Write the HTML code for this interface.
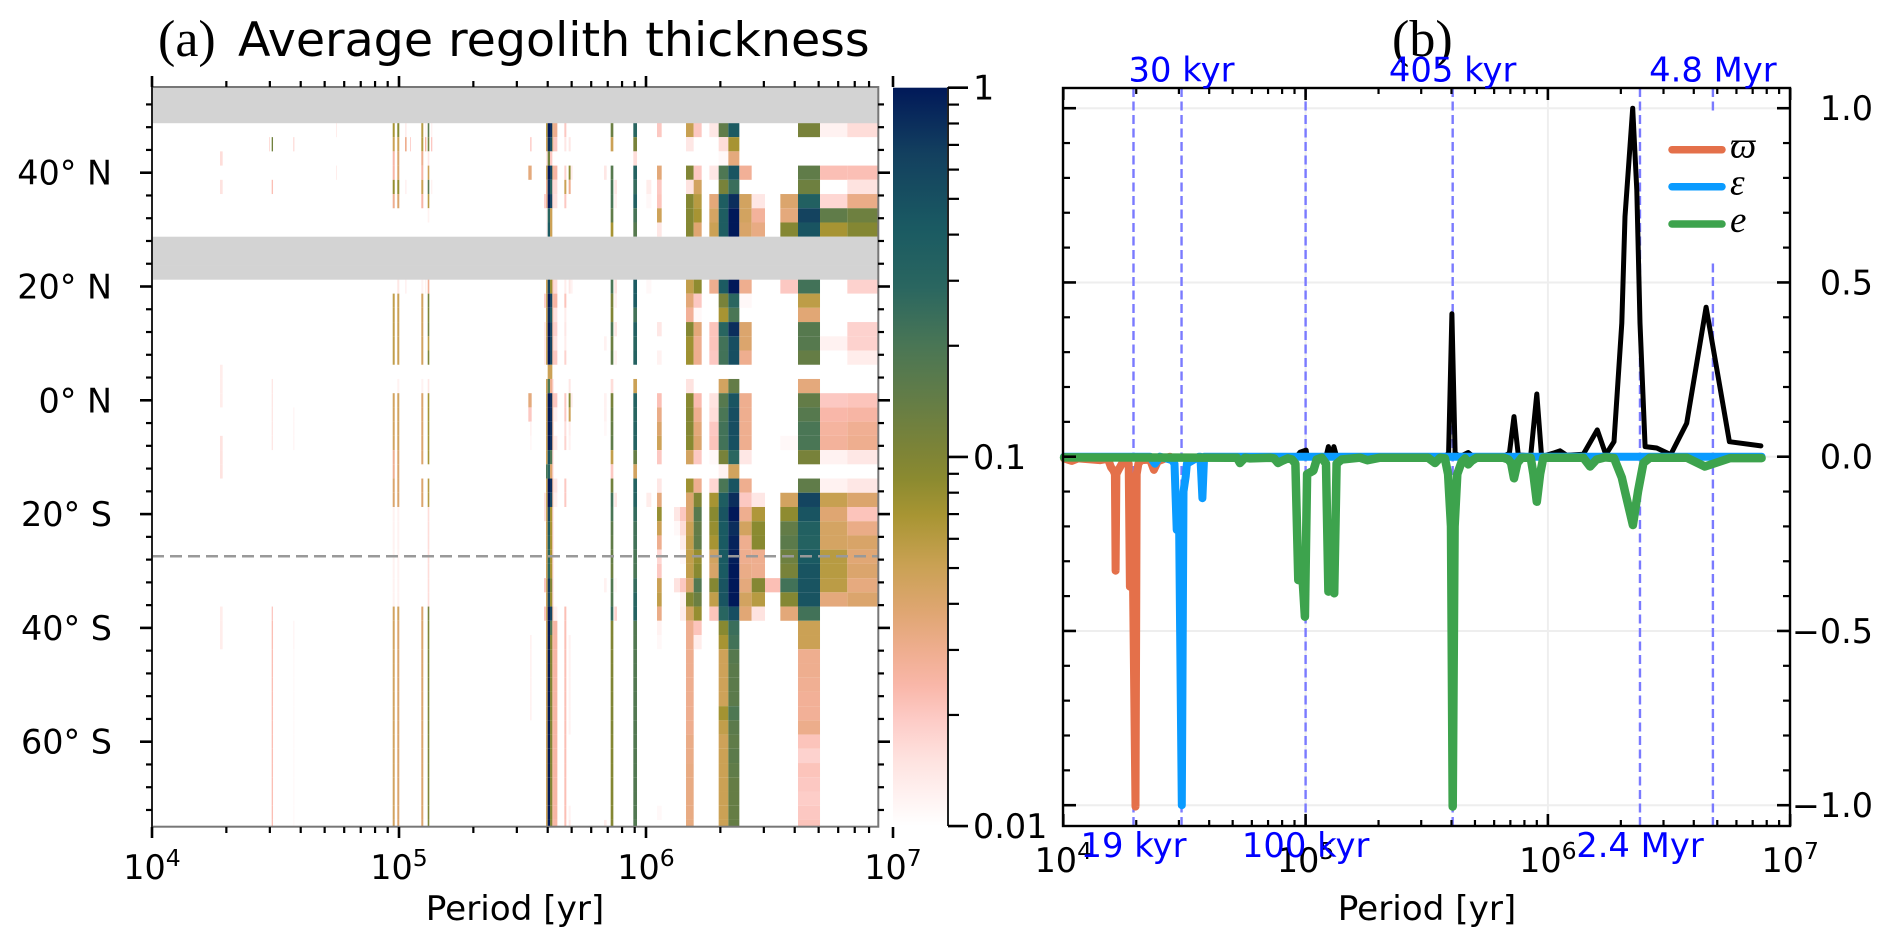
<!DOCTYPE html>
<html lang="en">
<head>
<meta charset="utf-8">
<title>Average regolith thickness and orbital periods</title>
<style>
html,body{margin:0;padding:0;background:#fff;}
svg{display:block;}
text{font-family:"DejaVu Sans","Liberation Sans",sans-serif;fill:#000;}
.serif{font-family:"Liberation Serif","DejaVu Serif",serif;}
.mi{font-family:"Liberation Serif","DejaVu Serif",serif;font-style:italic;}
</style>
</head>
<body>
<svg id="fig" xmlns="http://www.w3.org/2000/svg" width="1892" height="947" viewBox="0 0 1892 947">
<defs>
<clipPath id="clip-a"><rect x="152" y="87" width="726.3" height="740"/></clipPath>
<linearGradient id="cbar-grad" x1="0" y1="1" x2="0" y2="0"></linearGradient>
</defs>
<rect width="1892" height="947" fill="#fff"/>
<g id="panel-a">
<text class="serif" x="158" y="56" font-size="52">(a)</text>
<text x="238" y="56" font-size="47.5">Average regolith thickness</text>
<g id="cells" clip-path="url(#clip-a)"></g>
<g id="axes-a"></g>
<text x="515" y="920" font-size="34.2" text-anchor="middle">Period [yr]</text>
</g>
<g id="cbar">
<rect x="893" y="87.7" width="55" height="738.3" fill="url(#cbar-grad)"/>
<line x1="948" y1="87" x2="948" y2="826" stroke="#222" stroke-width="2"/>
</g>
<g id="panel-b">
<text class="serif" x="1392" y="56" font-size="52">(b)</text>
<g id="axes-b"></g>
<text x="1427" y="920" font-size="34.2" text-anchor="middle">Period [yr]</text>
</g>
</svg>
<script>
// ---------- Panel (a) data: log10(period) bin edges ----------
const binStart=[4.2753,4.4737,4.4845,4.5722,4.7449,4.9745,4.9931,5.0243,5.0445,5.0903,5.1053,5.1162,5.1295,5.5236,5.5304,5.5871,5.5952,5.6019,5.6114,5.6208,5.6249,5.6694,5.6869,5.6950,5.8300,5.8570,5.8718,5.9487,6.0014,6.0446,6.1134,6.1377,6.1620,6.1930,6.2564,6.2942,6.3334,6.3779,6.4278,6.4818,6.5439,6.6154,6.7045,6.8151];
const binEnd=[4.2861,4.4777,4.4899,4.5762,4.7490,4.9826,5.0012,5.0310,5.0485,5.0984,5.1106,5.1227,5.1349,5.5304,5.5371,5.5952,5.6019,5.6114,5.6208,5.6249,5.6411,5.6775,5.6950,5.7031,5.8408,5.8678,5.8826,5.9636,6.0216,6.0635,6.1377,6.1620,6.1930,6.2254,6.2942,6.3334,6.3779,6.4278,6.4818,6.5439,6.6154,6.7045,6.8151,6.9406];
// latitude of each row
const rowLats=[47.5,45,42.5,40,37.5,35,32.5,30,27.5,25,22.5,20,17.5,15,12.5,10,7.5,5,2.5,0,-2.5,-5,-7.5,-10,-12.5,-15,-17.5,-20,-22.5,-25,-27.5,-30,-32.5,-35,-37.5,-40,-42.5,-45,-47.5,-50,-52.5,-55,-57.5,-60,-62.5,-65,-67.5,-70,-72.5,-75];
const noDataLats=[55,52.5,50,27.5,25,22.5];
// thickness per column, one value per row (0 = none, trailing zeros omitted)
const colD1=[0,0,.016,0,.015,0,0,0,0,0, 0,0,0,0,0,0,0,.013,.013,.013, 0,0,.015,.015,.015,0,0,0,0,0, 0,0,0,0,.013,.013,.013];
const colD2=[0,.016];
const colD3=[0,.12,0,0,.022,0,0,0,0,0, 0,0,0,0,0,0,0,0,.014,.014, .014,.014,.014,0,0,0,0,0,0,0, 0,0,0,0,.02,.022,.022,.022,.022,.022, .022,.022,.022,.022,.022,.022,.022,.022,.022,.022];
const colD4=[0,.018,0,0,0,0,0,0,0,0, 0,0,0,0,0,0,0,0,0,0, .012,.012,.012,0,0,0,0,0,0,0, 0,0,0,0,0,.012,.012,.011,.011,.011, .011,.011,.011,.011,.011,.011,.011,.011,.011,.011];
const colD5=[.013,0,0,.013];
const colD6=[.07,.05,.025,.025,.08,.03,0,0,0,0, 0,0,.055,.055,.055,.055,.055,0,0,.045, .045,.045,.045,.03,.03,.04,.04,.012,.012,.012, .012,.012,.012,.012,.045,.045,.045,.045,.045,.045, .045,.045,.045,.045,.045,.045,.045,.045,.045,.045];
const colD7=[.09,.05,.04,.04,.08,.04,0,0,0,0, 0,.014,.05,.05,.05,.05,.05,0,.012,.045, .045,.045,.045,.04,.04,.04,.04,.012,.012,.012, .012,.012,.012,.012,.045,.04,.04,.04,.04,.04, .04,.04,.04,.04,.04,.04,.04,.04,.04,.04];
const colD8=[.013,.03,0,0,.012,0,0,0,0,0, 0,.012];
const colD9=[0,.018];
const colD10=[.06,.06,.03,.025,.05,.025,0,0,0,0, 0,.012,.045,.045,.045,.045,.045,0,.012,.04, .04,.04,.04,.04,0,.04,.04,0,0,0, 0,0,0,0,.04,.04,.04,.04,.04,.04, .04,.04,.04,.04,.04,.04,.04,.04,.04,.04];
const colD10b=[.012,.025,0,0,0,0,0,0,0,0, 0,.012];
const colD11=[.16,.12,.014,.05,.16,.06,.012,0,0,0, 0,.028,.11,.1,.11,.06,.1,0,.014,.07, .07,.07,.07,.07,0,.06,.06,.016,.016,.016, .016,.016,.016,.016,.11,.1,.1,.1,.1,.1, .1,.1,.1,.1,.1,.1,.1,.1,.1,.1];
const colD12=[.012,.02,0,0,.012];
const colC1a=[0,0,0,.035,0,0,0,0,0,0, 0,0,0,0,0,0,0,0,0,.035, .02];
const colC1b=[0,.018,0,.035,0,0,0,0,0,0, 0,0,0,0,0,0,0,0,0,.035, .02,.012,.011,0,0,0,0,0,0,0, 0,0,0,0,0,0,.012,.012,.012,.012, .012,.012];
const colC2=[0,0,0,0,0,.018,0,0,0,0, 0,0,.018,0,.013,.013,.013,0,0,0, 0,0,0,0,0,0,.015,.015,0,0, 0,0,.02,0,.02];
const colC3=[.06,.05,.015,.05,.03,.03,.012,.012,0,0, 0,.05,.05,.05,.05,.05,.05,0,.05,.05, .05,.05,.05,.05,.2,.05,.05,.05,.05,.05, .05,.05,.05,.05,.05,.05,.05,.05,.05,.05, .05,.05,.05,.05,.05,.05,.05,.05,.05,.05];
const colC4=[1,.8,.12,1,.8,1,.3,.4,0,0, 0,.6,1,.8,1,1,1,.05,.2,1, 1,1,1,.5,.3,1,1,.6,.4,.35, .3,.3,.7,.6,1,1,1,1,1,1, 1,1,1,1,1,1,1,1,1,1];
const colC5=[.8,.5,.02,.6,.3,.6,.05,.05,0,0, 0,.08,.6,.4,.6,.6,.6,.05,.03,.8, .8,.8,.8,.2,.04,.8,.6,.07,.07,.07, .07,.07,.1,.08,.6,.2,.1,.1,.1,.1, .1,.1,.1,.1,.1,.1,.1,.1,.1,.1];
const colC6=[.04,.04,0,.04,.02,.02,0,0,0,0, 0,.03,.03,.03,.03,.03,.03,0,.02,.03, .03,.03,.03,.02,.02,.03,.03,.02,.02,.02, .02,.02,.02,.02,.03,.03,.03,.03,.03,.03, .03,.03,.03,.03,.03,.03,.03,.03,.03,.03];
const colC7=[.03,.02,0,.025,.016,.015,0,0,0,0, 0,.016,.025,.015,.018,.015,.02,0,0,.02, .012,0,.013,0,0,.014,.012,0,0,0, 0,0,0,0,.012,.025,.025,.025,.025,.025, .025,.025,.025,.025,.025,.025,.025,.025,.025,.025];
const colC8=[.02,.014,0,.018,.05,.02,0,0,0,0, 0,.013,.021,.013,.014,.013,.018,0,0,.02, .02,.016,.018,0,0,.02,.02,0,0,0, 0,0,0,0,.022,.022,.022,.022,.022,.022, .022,.022,.022,.022,.022,.022,.022,.022,.022,.022];
const colC9=[0,.014,0,.085,.03,0,0,0,0,0, 0,.014,0,0,0,0,0,0,.014,.09, .05,.013,.012,0,0,0,0,0,0,0, 0,0,0,0,0,0,.012,.012,.012,.012, .012,.012,.012,0,0,0,0,0,.012,.014];
const colC10=[0,0,0,.013,0,0,0,0,0,0, 0,.012,0,0,0,0,0,0,0,.013];
const colC11=[0,0,0,.014,0,0,0,0,0,0, 0,0,0,0,0,.012,0,0,0,.012, .012,.011,0,0,0,0,0,0,0,0, 0,0,.012,0,0,0,0,0,0,0, 0,0,0,0,0,0,0,0,0,.013];
const colC12=[.13,.05,0,.17,.2,.2,.15,.07,0,0, 0,.2,.11,.1,.19,.13,.15,0,.016,.11, .13,.14,.15,.055,.02,.12,.22,.2,.16,.15, .14,.13,.18,.18,.25,.1,.1,.1,.1,.1, .1,.1,.1,.095,.095,.095,.095,.095,.095,.095];
const colC13=[0,0,0,0,.014,.012,0,0,0,0, 0,.015,.012,0,.014,0,.012,0,0,0, 0,0,0,0,0,0,.014,0,0,0, 0,0,.011,0,.018];
const colC14=[.3,.11,.016,.33,.25,.35,.21,.17,0,0, 0,.4,.4,.22,.35,.3,.33,0,.05,.33, .3,.33,.33,.14,.045,.33,.33,.26,.22,.22, .2,.2,.25,.3,.33,.18,.18,.18,.18,.18, .18,.18,.18,.18,.18,.18,.18,.18,.18,.18];
const colC15=[0,0,0,0,.013,.011,0,0,0,0, 0,.011,0,0,0,0,0,0,0,0, 0,0,0,0,0,0,.013];
const colC16=[.02,0,0,.036,.02,.021,.048,.014,0,0, 0,0,0,0,.014,0,.012,0,0,.022, .032,.04,.048,.02,0,.014,.035,.08,.05,.03, .017,.02,.05,.055,.032,.012,.011,0,0,0, 0,0,0,0,0,0,0,0,.011];
const colC17=[0,0,0,0,0,0,0,0,0,0, 0,0,0,0,0,0,0,0,0,0, 0,0,0,0,0,0,0,.014,.011,0, 0,0,.015];
const colC18=[0,0,0,0,0,0,0,0,0,0, 0,0,0,0,0,0,0,0,0,0, 0,0,0,0,0,0,0,.02,.016,.013, .011,0,.02,.012,.013];
const colC19=[.052,.014,0,.1,.015,.095,.095,.095,0,0, 0,.055,.036,.028,.095,.075,.075,0,.015,.09, .095,.095,.09,.045,0,.075,.04,.04,.05,.055, .055,.055,.04,.095,.045,.03,.03,.03,.03,.03, .03,.03,.03,.032,.032,.033,.033,.033,.033,.034];
const colC20=[.02,0,0,.02,.045,.06,.07,.038,0,0, 0,.085,.02,.011,.036,.03,.03,0,0,.023, .03,.036,.04,.02,0,.03,.1,.17,.145,.15, .08,.09,.18,.13,.08,.021,.013];
const colC21=[.014,0,0,.014,0,.036,.044,.05,0,0, 0,.03,0,0,.021,.021,.02,0,0,.015, .016,.02,.021,.011,0,.017,.07,.09,.08,.07, .045,.042,.095,.055,.021];
const colC22=[.15,.016,.011,.19,.11,.38,.38,.38,0,0, 0,.4,.11,.07,.3,.22,.22,0,.045,.17, .2,.22,.22,.11,.012,.2,.38,.46,.42,.42, .42,.42,.46,.46,.3,.09,.07,.048,.048,.048, .048,.072,.055,.048,.05,.05,.05,.05,.05,.05];
const colC23=[.4,.07,.035,.46,.24,.8,1,1,0,0, 0,1,.29,.2,.8,.52,.52,0,.145,.46, .52,.52,.5,.29,.046,.46,.8,1,.8,.9, .95,1,1,1,.52,.24,.22,.17,.16,.16, .16,.19,.16,.15,.16,.15,.14,.14,.14,.14];
const colC24=[0,0,0,.028,0,.045,.045,.042,0,0, 0,.03,.011,0,.04,.04,.03,0,0,.03, .03,.03,.03,.014,0,.03,.02,.03,.045,.03, .03,.032,.035,.045,.037];
const colC25=[0,0,0,0,0,.014,.027,.033,0,0, 0,0,0,0,0,0,0,0,0,0, 0,0,0,0,0,0,.014,.065,.088,.09, .03,.03,.095,.06,.015];
const colC25b=[0,0,0,0,0,0,0,0,0,0, 0,0,0,0,0,0,0,0,0,0, 0,0,0,0,0,0,0,0,0,0, 0,0,.022];
const colC26=[0,0,0,0,0,.04,.035,.095,0,0, 0,.02,0,0,0,0,0,0,0,0, 0,0,.011,0,0,0,.045,.085,.145,.16, .125,.11,.22,.095,.036];
const colC27=[.11,0,0,.15,.125,.35,.63,.46,0,0, 0,.22,.057,.037,.17,.17,.14,0,.035,.145, .17,.2,.2,.11,0,.15,.6,.46,.35,.33, .42,.46,.46,.46,.22,.05,.05,.03,.03,.029, .028,.028,.031,.021,.018,.021,.02,.019,.02,.021];
const colC28=[.012,0,0,.022,0,.017,.15,.07,0,0, 0,0,0,0,0,.012,0,0,0,.02, .024,.026,.027,.012,0,.012,.052,.038,.044,.044, .06,.06,.058,.035];
const colC29=[.016,0,0,.022,.015,.032,.125,.095,0,0, 0,.018,0,0,.018,.018,.013,0,0,.021, .025,.029,.03,.014,0,.014,.04,.021,.032,.042, .037,.04,.034,.04];
const columnValues=[colD1,colD2,colD3,colD4,colD5,colD6,colD7,colD8,colD9,colD10,colD10b,colD11,colD12,colC1a,colC1b,colC2,colC3,colC4,colC5,colC6,colC7,colC8,colC9,colC10,colC11,colC12,colC13,colC14,colC15,colC16,colC17,colC18,colC19,colC20,colC21,colC22,colC23,colC24,colC25,colC25b,colC26,colC27,colC28,colC29];
const referenceLat=[-27.4];
const latMajorTicks=[40,20,0,-20,-40,-60];
const latMajorLabels=["40° N","20° N","0° N","20° S","40° S","60° S"];
const latMinorTicks=[52,48,44,36,32,28,24,16,12,8,4,-4,-8,-12,-16,-24,-28,-32,-36,-44,-48,-52,-56,-64,-68,-72];
const decadeTicks=[4,5,6,7];
const minorMantissas=[2,3,4,5,6,7,8,9];
const cbarMajor=[1,0.1,0.01];
const cbarMajorLabels=["1","0.1","0.01"];
const cbarMinor=[.9,.8,.7,.6,.5,.4,.3,.2,.09,.08,.07,.06,.05,.04,.03,.02];
// colour map: fraction of log range -> colour
const cmapFrac=[0,.04,.09,.144,.19,.236,.29,.354,.42,.47,.505,.585,.65,.73,.81,.91,1];
const cmapHex=["#ffffff","#fff2f1","#fee2df","#fdcbc6","#f9b7a9","#efae90","#dfa672","#c9a153","#a89533","#8b8a30","#7e8436","#617c48","#4a7655","#2a6660","#1a5a62","#13405f","#011959"];

// ---------- Panel (b) data ----------
const blackLogP=[4.003,4.963,4.977,5.002,5.007,5.084,5.094,5.105,5.117,5.128,5.575,5.59,5.604,5.617,5.637,5.671,5.692,5.816,5.841,5.86,5.878,5.929,5.954,5.974,6.022,6.05,6.078,6.146,6.204,6.239,6.273,6.305,6.318,6.35,6.367,6.38,6.401,6.449,6.507,6.573,6.653,6.749,6.879];
const blackVal=[0,0,.013,.019,0,0,.029,0,.029,0,0,.01,.41,.01,0,.012,0,0,.01,.115,.005,.003,.18,0,.01,.017,.004,.007,.077,.006,.043,.383,.689,1,.765,.383,.029,.025,.006,.096,.429,.043,.031];
const orangeLogP=[4.003,4.035,4.061,4.151,4.184,4.197,4.207,4.213,4.216,4.219,4.226,4.242,4.259,4.27,4.275,4.287,4.298,4.303,4.31,4.321,4.358,4.374,4.391,4.403,4.44];
const orangeVal=[-.005,-.012,-.005,-.01,-.006,-.03,-.04,-.05,-.327,-.05,-.04,-.02,-.01,-.02,-.373,-.3,-1.004,-.05,-.02,-.01,-.008,-.038,-.012,-.01,0];
const blueLogP=[4.003,4.358,4.378,4.399,4.449,4.459,4.468,4.477,4.489,4.496,4.505,4.51,4.56,4.566,4.574,4.581,6.882];
const blueVal=[0,0,-.02,0,-.01,-.02,-.21,-.13,-1.0,-.1,-.057,-.02,0,0,-.119,0,0];
const greenLogP=[4.003,4.688,4.717,4.729,4.75,4.771,4.853,4.87,4.886,4.903,4.927,4.944,4.958,4.97,4.983,4.997,5.006,5.032,5.046,5.066,5.084,5.094,5.108,5.118,5.128,5.149,5.224,5.255,5.307,5.505,5.534,5.555,5.575,5.588,5.6,5.607,5.615,5.626,5.644,5.658,5.671,5.685,5.706,5.816,5.837,5.848,5.86,5.874,5.892,5.929,5.94,5.954,5.968,5.981,6.146,6.174,6.201,6.236,6.273,6.305,6.318,6.351,6.372,6.394,6.421,6.573,6.648,6.752,6.882];
const greenVal=[-.002,-.003,-.003,-.018,-.003,-.005,-.003,-.005,-.018,-.012,-.005,-.008,-.02,-.354,-.3,-.459,-.05,-.04,-.008,-.003,-.02,-.387,-.38,-.392,-.02,-.008,-.003,-.01,-.003,-.003,-.018,-.003,-.005,-.05,-.2,-1.004,-.2,-.05,-.015,-.005,-.022,-.012,-.003,-.003,-.008,-.018,-.062,-.018,-.003,-.003,-.05,-.129,-.05,-.003,-.003,-.028,-.008,-.002,-.004,-.06,-.1,-.196,-.1,-.018,-.003,-.003,-.028,-.004,-.004];
const upperMarks=[4.488,5.607,6.681];
const upperLabels=["30 kyr","405 kyr","4.8 Myr"];
const lowerMarks=[4.2897,5.0,6.38];
const lowerLabels=["19 kyr","100 kyr","2.4 Myr"];
const rightMajor=[1,.5,0,-.5,-1];
const rightMajorLabels=["1.0","0.5","0.0","−0.5","−1.0"];
const rightMinor=[.9,.8,.7,.6,.4,.3,.2,.1,-.1,-.2,-.3,-.4,-.6,-.7,-.8,-.9];
const legendLabels=["ϖ","ε","e"];

// ---------- helpers ----------
const NS='http://www.w3.org/2000/svg';
function make(tag,parent,attrs,txt){
  const el=document.createElementNS(NS,tag);
  for(const k in attrs)el.setAttribute(k,attrs[k]);
  if(txt!==undefined)el.textContent=txt;
  parent.appendChild(el);
  return el;
}
function hexRgb(h){return [parseInt(h.slice(1,3),16),parseInt(h.slice(3,5),16),parseInt(h.slice(5,7),16)];}
function cmap(v){
  const f=Math.max(0,Math.min(1,(Math.log10(v)+2)/2));
  let i=0;
  while(i<cmapFrac.length-2&&f>cmapFrac[i+1])i++;
  const t=(f-cmapFrac[i])/(cmapFrac[i+1]-cmapFrac[i]);
  const a=hexRgb(cmapHex[i]),b=hexRgb(cmapHex[i+1]);
  return 'rgb('+a.map((c,j)=>Math.round(c+(b[j]-c)*t)).join(',')+')';
}
// axis functions
const xA=lp=>152+247*(lp-4);
const yA=lat=>400.3-5.69*lat;
const xB=lp=>1063.3+242.3*(lp-4);
const yB=v=>456.7-348.5*v;
const yC=v=>87.7-369.2*Math.log10(v);
const TICK_FONT=33.4;

// ---------- Panel (a) heatmap ----------
const cellsG=document.getElementById('cells');
columnValues.forEach((col,c)=>{
  col.forEach((v,r)=>{
    if(!v)return;
    const y0=yA(rowLats[r]+1.25),y1=yA(rowLats[r]-1.25);
    const x0=xA(binStart[c]),x1=xA(binEnd[c]);
    const cell=make('rect',cellsG,{x:x0,y:y0,width:x1-x0,height:y1-y0,fill:cmap(v)});
    
    
  });
});
noDataLats.forEach(lat=>{
  const band=make('rect',cellsG,{x:152,y:yA(lat+1.25),width:726.3,height:yA(lat-1.25)-yA(lat+1.25)+.3,fill:'#d3d3d3'});
  
  
});
const axA=document.getElementById('axes-a');
referenceLat.forEach(lat=>{
  const l=make('line',axA,{x1:152,x2:878,y1:yA(lat),y2:yA(lat),stroke:'#999','stroke-width':2.5,'stroke-dasharray':'12 6'});
  
  
});
// spines
const frameA=make('rect',axA,{x:152,y:87,width:726.3,height:739.7,fill:'none',stroke:'#777','stroke-width':2});


const leftSpine=make('line',axA,{x1:152,y1:87,x2:152,y2:827,stroke:'#222','stroke-width':2});


function tick(parent,x1,y1,x2,y2,w,name){
  const t=make('line',parent,{x1,y1,x2,y2,stroke:'#000','stroke-width':w});
  
  
}
latMajorTicks.forEach((lat,i)=>{
  const y=yA(lat);
  tick(axA,140,y,152,y,2.6,'y-tick-major');
  tick(axA,878,y,890,y,2.6,'y-tick-major-right');
  const t=make('text',axA,{x:112,y:y+12,'font-size':TICK_FONT,'text-anchor':'end'},latMajorLabels[i]);
  
  
});
latMinorTicks.forEach(lat=>{
  const y=yA(lat);
  tick(axA,146,y,152,y,2.2,'y-tick-minor');
  tick(axA,878,y,884,y,2.2,'y-tick-minor-right');
});
function decadeLabel(parent,x,y,d){
  const t=make('text',parent,{x:x,y:y,'font-size':TICK_FONT,'text-anchor':'middle'},'10');
  
  
  const s=make('tspan',t,{dy:-13,'font-size':23.5},String(d));
  
  
}
decadeTicks.forEach(d=>{
  const x=xA(d);
  tick(axA,x,76,x,87,2.6,'x-tick-major-top');
  tick(axA,x,827,x,838,2.6,'x-tick-major-bottom');
  decadeLabel(axA,x,879,d);
  if(d<7)minorMantissas.forEach(m=>{
    const lp=d+Math.log10(m);
    if(lp>6.93)return;
    const xm=xA(lp);
    tick(axA,xm,81,xm,87,2.2,'x-tick-minor-top');
    tick(axA,xm,827,xm,833,2.2,'x-tick-minor-bottom');
  });
});

// ---------- Colorbar ----------
const grad=document.getElementById('cbar-grad');
cmapFrac.forEach((f,i)=>{
  const s=make('stop',grad,{offset:f,'stop-color':cmapHex[i]});
  
  
});
const cb=document.getElementById('cbar');
cbarMajor.forEach((v,i)=>{
  const y=yC(v);
  tick(cb,948,y,968,y,2.6,'colorbar-tick-major');
  const t=make('text',cb,{x:973,y:y+12,'font-size':TICK_FONT},cbarMajorLabels[i]);
  
  
});
cbarMinor.forEach(v=>{
  const y=yC(v);
  tick(cb,948,y,959,y,2.2,'colorbar-tick-minor');
});

// ---------- Panel (b) ----------
const axB=document.getElementById('axes-b');
function hgrid(v){
  const g=make('line',axB,{x1:1063,x2:1790,y1:yB(v),y2:yB(v),stroke:'#eeeeee','stroke-width':2});
  
  
}
rightMajor.forEach(hgrid);
decadeTicks.forEach(d=>{
  const g=make('line',axB,{x1:xB(d),x2:xB(d),y1:88,y2:826,stroke:'#eeeeee','stroke-width':2});
  
  
});
function vmark(lp){
  const l=make('line',axB,{x1:xB(lp),x2:xB(lp),y1:88,y2:826,stroke:'#7a7aff','stroke-width':2.4,'stroke-dasharray':'9 4.5'});
  
  
}
upperMarks.forEach(vmark);
lowerMarks.forEach(vmark);
function series(lps,vals,color,w,name){
  const pts=lps.map((lp,i)=>xB(lp).toFixed(1)+','+yB(vals[i]).toFixed(1)).join(' ');
  const l=make('polyline',axB,{points:pts,fill:'none',stroke:color,'stroke-width':w,'stroke-linejoin':'round','stroke-linecap':'round'});
  
  
}
series(blackLogP,blackVal,'#000',5,'total-line');
series(orangeLogP,orangeVal,'#e4704a',8,'precession-line');
series(blueLogP,blueVal,'#0a9bff',8,'obliquity-line');
series(greenLogP,greenVal,'#3da34d',8.5,'eccentricity-line');
// legend
const legendBox=make('rect',axB,{x:1655,y:112,width:120,height:149,fill:'#fff'});


const legendColors=['#e4704a','#0a9bff','#3da34d'];
const legendY=[149.7,186.7,224];
legendLabels.forEach((lab,i)=>{
  const h=make('line',axB,{x1:1672,x2:1722,y1:legendY[i],y2:legendY[i],stroke:legendColors[i],'stroke-width':7.5,'stroke-linecap':'round'});
  
  
  const t=make('text',axB,{x:1730,y:legendY[i]+8,'font-size':37,'class':'mi'},lab);
  
  
});
// frame
const frameB=make('rect',axB,{x:1063,y:88,width:727,height:738,fill:'none',stroke:'#000','stroke-width':2.4});


rightMajor.forEach((v,i)=>{
  const y=yB(v);
  tick(axB,1063,y,1076,y,2.6,'y-tick-major-left');
  tick(axB,1777,y,1790,y,2.6,'y-tick-major-right');
  const t=make('text',axB,{x:1873,y:y+12,'font-size':TICK_FONT,'text-anchor':'end'},rightMajorLabels[i]);
  
  
});
rightMinor.forEach(v=>{
  const y=yB(v);
  tick(axB,1063,y,1070,y,2.2,'y-tick-minor-left');
  tick(axB,1783,y,1790,y,2.2,'y-tick-minor-right');
});
decadeTicks.forEach(d=>{
  const x=xB(d);
  tick(axB,x,88,x,100,2.6,'x-tick-major-top');
  tick(axB,x,814,x,826,2.6,'x-tick-major-bottom');
  decadeLabel(axB,x,872,d);
  if(d<7)minorMantissas.forEach(m=>{
    const xm=xB(d+Math.log10(m));
    tick(axB,xm,88,xm,94,2.2,'x-tick-minor-top');
    tick(axB,xm,820,xm,826,2.2,'x-tick-minor-bottom');
  });
});
function markLabel(lp,y,txt){
  const t=make('text',axB,{x:xB(lp),y:y,'font-size':33.8,'text-anchor':'middle',style:'fill:#0000ff'},txt);
  
  
}
upperMarks.forEach((lp,i)=>markLabel(lp,81.5,upperLabels[i]));
lowerMarks.forEach((lp,i)=>markLabel(lp,857,lowerLabels[i]));
</script>
</body>
</html>
